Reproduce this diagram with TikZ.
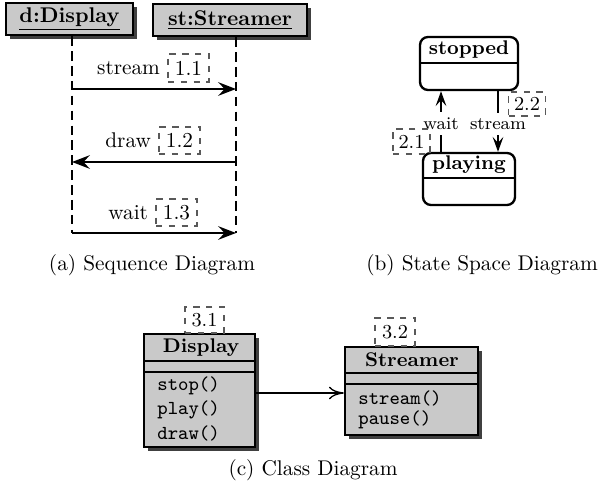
\documentclass[tikz,border=0pt]{standalone}
\usetikzlibrary{arrows.meta,shadows,positioning}
\newcommand\pxl{0.47pt}
\newcommand\cls{\fontsize{9.3pt}{11pt}\selectfont}
\newcommand\trl{\fontsize{8.4pt}{10pt}\selectfont}
\begin{document}
\begin{tikzpicture}[x=\pxl,y=-\pxl,
  boxline/.style={line width=1.1pt},
  shadowed/.style={drop shadow={shadow xshift=4*\pxl, shadow yshift=-4*\pxl, fill=black!75, opacity=1}},
  hdr/.style={draw, boxline, fill=black!21, shadowed, inner sep=0pt},
  lifeline/.style={line width=0.9pt, dash pattern=on 4.5pt off 2.5pt},
  msg/.style={line width=0.9pt, -{Stealth[length=8.5pt,width=6.5pt,inset=3.2pt]}},
  trans/.style={line width=0.8pt, -{Stealth[length=7pt,width=5pt,inset=2.8pt]}},
  assoc/.style={line width=0.6pt, -{Computer Modern Rightarrow[length=7pt,width=6pt]}},
  num/.style={draw=black!65, dashed, line width=0.5pt, inner sep=0pt},
  lbl/.style={fill=white, inner sep=2.5pt, yshift=-1pt, font=\trl},
  statebox/.style={draw, boxline, rounded corners=8*\pxl, fill=white, inner sep=0pt},
  classbox/.style={draw, boxline, fill=black!21, shadowed, inner sep=0pt},
  meth/.style={anchor=west, inner sep=0pt, font=\cls\ttfamily}]
\useasboundingbox (0,0) rectangle (603,489);

% ---------- (a) sequence diagram ----------
\node[hdr, minimum width=127*\pxl, minimum height=32*\pxl] (disp) at (69.5,19) {\underline{\textbf{d:Display}}};
\node[hdr, minimum width=154*\pxl, minimum height=32*\pxl] (strm) at (230,20) {\underline{\textbf{st:Streamer}}};

\coordinate (dx) at (72,0);
\coordinate (sx) at (236,0);
\coordinate (dend) at (72,233);
\coordinate (send) at (236,233);
\draw[lifeline] (dx |- disp.south) -- (dend);
\draw[lifeline] (sx |- strm.south) -- (send);

\coordinate (m1) at (0,89);
\coordinate (m2) at (0,162);
\draw[msg] (dx |- m1) -- (sx |- m1);
\draw[msg] (sx |- m2) -- (dx |- m2);
\draw[msg] (dend) -- (send);

\node[num, minimum width=41*\pxl, minimum height=28*\pxl] (n11) at (188.5,68) {1.1};
\node[left=0pt of n11] (t11) {stream};
\node[num, minimum width=41*\pxl, minimum height=27*\pxl] (n12) at (179.5,140.5) {1.2};
\node[left=0pt of n12] (t12) {draw};
\node[num, minimum width=41*\pxl, minimum height=27*\pxl] (n13) at (176.5,212.5) {1.3};
\node[left=0pt of n13] (t13) {wait};

\node (capa) at (152,265) {(a) Sequence Diagram};

% ---------- (b) state space diagram ----------
\node[statebox, minimum width=98*\pxl, minimum height=53*\pxl] (stop) at (469,63.5) {};
\draw[boxline] (420,63) -- (518,63);
\node[font=\cls] (stopT) at (469,50) {\textbf{stopped}};

\node[statebox, minimum width=92*\pxl, minimum height=52*\pxl] (play) at (469,179) {};
\draw[boxline] (423,178) -- (515,178);
\node[font=\cls] (playT) at (469,165) {\textbf{playing}};

\coordinate (wx) at (441,0);
\coordinate (sx2) at (498,0);
\draw[trans] (wx |- play.north) -- node[lbl] (twait) {wait} (wx |- stop.south);
\draw[trans] (sx2 |- stop.south) -- node[lbl] (tstream) {stream} (sx2 |- play.north);

\node[num, font=\cls, minimum width=37*\pxl, minimum height=25*\pxl] (n21) at (411.5,141.5) {2.1};
\node[num, font=\cls, minimum width=37*\pxl, minimum height=24*\pxl] (n22) at (527,104) {2.2};

\node (capb) at (482,265) {(b) State Space Diagram};

% ---------- (c) class diagram ----------
\node[classbox, minimum width=111*\pxl, minimum height=113*\pxl] (cdisp) at (199.5,390.5) {};
\draw[boxline] (144,361) -- (255,361);
\draw[boxline] (144,372) -- (255,372);
\node[font=\cls] (cdispT) at (201,347.5) {\textbf{Display}};
\node[meth] (mstop) at (157,386) {stop()};
\node[meth] (mplay) at (157,409.5) {play()};
\node[meth] (mdraw) at (157,433) {draw()};

\node[classbox, minimum width=133*\pxl, minimum height=88*\pxl] (cstrm) at (411.5,391) {};
\draw[boxline] (345,373) -- (478,373);
\draw[boxline] (345,384) -- (478,384);
\node[font=\cls] (cstrmT) at (412,360) {\textbf{Streamer}};
\node[meth] (mstream) at (358,398) {stream()};
\node[meth] (mpause) at (358,420) {pause()};

\coordinate (ay) at (0,393);
\draw[assoc] (cdisp.east |- ay) -- (cstrm.west |- ay);

\node[num, font=\cls, minimum width=39*\pxl, minimum height=26*\pxl] (n31) at (204.5,320) {3.1};
\node[num, font=\cls, minimum width=40*\pxl, minimum height=28*\pxl] (n32) at (395,332) {3.2};

\node (capc) at (313,470) {(c) Class Diagram};
\end{tikzpicture}
\end{document}
